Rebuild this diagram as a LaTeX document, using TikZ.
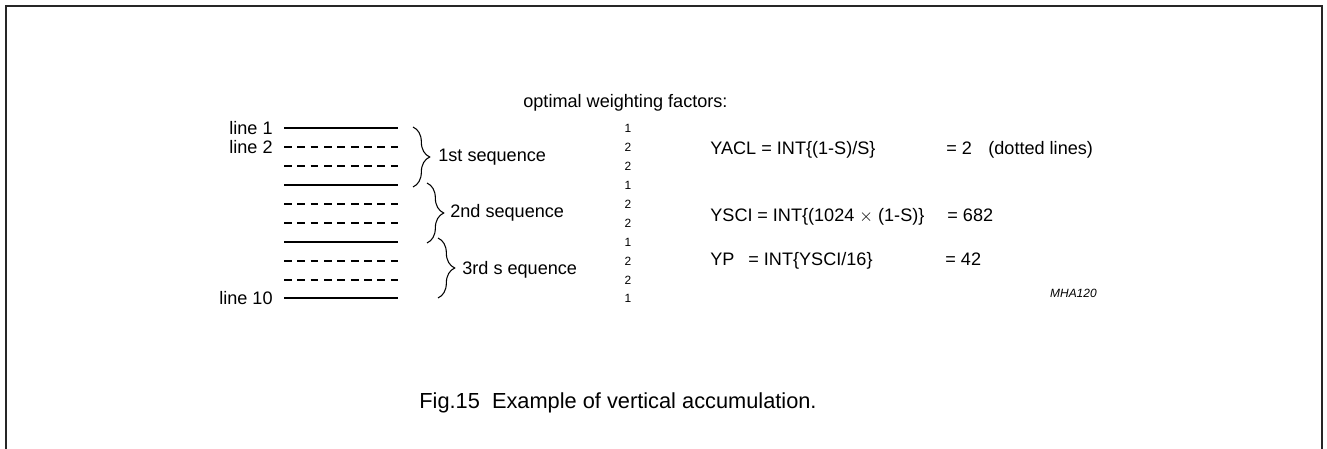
\documentclass[tikz,border=0pt]{standalone}
\usepackage{fontspec}
\setmainfont{Liberation Sans}
\usetikzlibrary{decorations.pathreplacing,positioning}

\begin{document}
\begin{tikzpicture}[x=0.02cm,y=-0.02cm,
    txt/.style={inner sep=0pt, font=\fontsize{10.3}{12}\selectfont},
    fac/.style={inner sep=0pt, font=\fontsize{6.8}{8}\selectfont},
    fullline/.style={line width=1.13pt},
    dashline/.style={line width=1.13pt, dash pattern=on 4.4pt off 3.2pt},
    seqbrace/.style={decorate, decoration={brace, amplitude=9.5pt}, line width=0.6pt}]
    \useasboundingbox (0,0) rectangle (1327,449);
    \draw[line width=1.2pt, color=black!85] (6,449) -- (6,6) -- (1322,6) -- (1322,449);

    % the ten lines of the field
    \draw[fullline] (284,128) -- (398,128);
    \draw[dashline] (284,147) -- (398,147);
    \draw[dashline] (284,166) -- (398,166);
    \draw[fullline] (284,185) -- (398,185);
    \draw[dashline] (284,204) -- (398,204);
    \draw[dashline] (284,223) -- (398,223);
    \draw[fullline] (284,242) -- (398,242);
    \draw[dashline] (284,261) -- (398,261);
    \draw[dashline] (284,280) -- (398,280);
    \draw[fullline] (284,298) -- (398,298);

    \node[txt, anchor=east] (line1) at (273,128) {line 1};
    \node[txt, anchor=east] (line2) at (273,147) {line 2};
    \node[txt, anchor=east] (line10) at (273,298) {line 10};

    % sequences
    \draw[seqbrace] (413,127) -- (413,187);
    \draw[seqbrace] (427,183) -- (427,243);
    \draw[seqbrace] (438,238) -- (438,298);
    \node[txt, anchor=west] (seq1) at (438,157) {1st sequence};
    \node[txt, anchor=west] (seq2) at (450,213) {2nd sequence};
    \node[txt, anchor=west] (seq3) at (462,270) {3rd s equence};

    % weighting factors
    \node[txt, anchor=west] (opt) at (523,103) {optimal weighting factors:};
    \node[fac] (f1) at (628,128) {1};
    \node[fac] (f2) at (628,147) {2};
    \node[fac] (f3) at (628,166) {2};
    \node[fac] (f4) at (628,185) {1};
    \node[fac] (f5) at (628,204) {2};
    \node[fac] (f6) at (628,223) {2};
    \node[fac] (f7) at (628,242) {1};
    \node[fac] (f8) at (628,261) {2};
    \node[fac] (f9) at (628,280) {2};
    \node[fac] (f10) at (628,298) {1};

    % formulas
    \node[txt, anchor=base west] (yacl) at (710,154.5) {YACL = INT\{(1-S)/S\}};
    \node[txt, anchor=base west] (yaclval) at (946,154.5) {= 2};
    \node[txt, anchor=base west] (dotted) at (988,154.5) {(dotted lines)};
    \node[txt, anchor=base west] (ysci) at (710,221.5) {YSCI};
    \node[txt, anchor=base west] (yscint) at (757,221.5) {= INT\{(1024 $\times$ (1-S)\}};
    \node[txt, anchor=base west] (ysciv) at (947,221.5) {= 682};
    \node[txt, anchor=base west] (yp) at (710,265) {YP};
    \node[txt, anchor=base west] (ypint) at (748,265) {= INT\{YSCI/16\}};
    \node[txt, anchor=base west] (ypval) at (945,265) {= 42};
    \node[inner sep=0pt, anchor=east, font=\fontsize{6.8}{8}\selectfont\itshape] (code) at (1097,293) {MHA120};

    \node[inner sep=0pt, font=\fontsize{12.4}{14}\selectfont] (caption) at (618,403) {Fig.15\ \ Example of vertical accumulation.};
\end{tikzpicture}
\end{document}
